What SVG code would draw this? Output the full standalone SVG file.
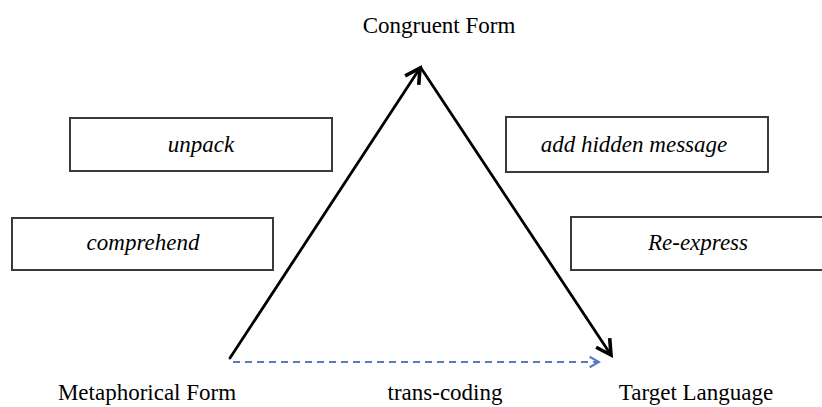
<svg xmlns="http://www.w3.org/2000/svg" width="822" height="407" viewBox="0 0 822 407">
<style>
.box{fill:#fff;stroke:#3a3a3a;stroke-width:2}
.lbl{font-family:"Liberation Serif","Times New Roman",serif;font-size:23px;fill:#000;text-anchor:middle}
.it{font-style:italic}
.edge{stroke:#000;stroke-width:2.8;fill:none;stroke-linecap:round}
.dash{stroke:#5b7bbf;stroke-width:2;fill:none;stroke-dasharray:7 5}
</style>
<defs>
<marker id="ah" viewBox="0 0 12 12" refX="10" refY="6" markerWidth="7" markerHeight="7" markerUnits="strokeWidth" orient="auto">
<path d="M1,1 L10,6 L1,11" fill="none" stroke="#000" stroke-width="2.2" stroke-linejoin="miter"/>
</marker>
<marker id="ahb" viewBox="0 0 12 12" refX="10" refY="6" markerWidth="7" markerHeight="7" markerUnits="strokeWidth" orient="auto">
<path d="M2,1.5 L10,6 L2,10.5" fill="none" stroke="#5b7bbf" stroke-width="1.8"/>
</marker>
</defs>
<rect width="822" height="407" fill="#fff"/>
<g id="connectors">
<line class="edge" x1="230" y1="358" x2="420" y2="68" marker-end="url(#ah)"/>
<line class="edge" x1="421" y1="68" x2="611" y2="355" marker-end="url(#ah)"/>
<line class="dash" x1="233" y1="362" x2="599" y2="362" marker-end="url(#ahb)"/>
</g>
<g id="congruent"><text class="lbl" x="439" y="33">Congruent Form</text></g>
<g id="metaphorical"><text class="lbl" x="147" y="400">Metaphorical Form</text></g>
<g id="transcoding"><text class="lbl" x="445" y="400">trans-coding</text></g>
<g id="target"><text class="lbl" x="696" y="400">Target Language</text></g>
<g id="unpack"><rect class="box" x="70" y="118" width="262" height="53"/><text class="lbl it" x="201" y="152">unpack</text></g>
<g id="comprehend"><rect class="box" x="12" y="218" width="261" height="52"/><text class="lbl it" x="143" y="250">comprehend</text></g>
<g id="addhidden"><rect class="box" x="506" y="117" width="262" height="55"/><text class="lbl it" x="634" y="152">add hidden message</text></g>
<g id="reexpress"><rect class="box" x="571" y="217" width="262" height="53"/><text class="lbl it" x="698" y="250">Re-express</text></g>
</svg>
